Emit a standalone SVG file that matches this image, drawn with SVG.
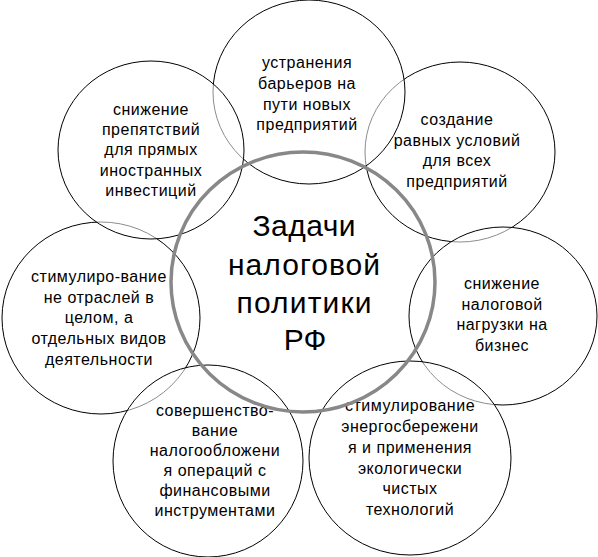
<svg xmlns="http://www.w3.org/2000/svg" width="598" height="557" viewBox="0 0 598 557">
<style>
.c{fill:#fff;fill-opacity:0.55;stroke:#000;stroke-width:1}
.t{font-family:"Liberation Sans",Arial,sans-serif;font-size:16px;letter-spacing:0.5px;text-anchor:middle;fill:#000}
.ct{font-family:"Liberation Sans",Arial,sans-serif;font-size:30px;text-anchor:middle;fill:#000}
.ring{fill:none;stroke:#888;stroke-width:3.5}
.ringb{fill:none;stroke:#000;stroke-width:3.5}
</style>
<defs>
<ellipse id="eT" cx="309" cy="92" rx="96" ry="92"/>
<ellipse id="eTL" cx="151" cy="150" rx="93" ry="89"/>
<ellipse id="eTR" cx="460" cy="152" rx="95" ry="90"/>
<ellipse id="eR" cx="503" cy="316" rx="94" ry="89"/>
<ellipse id="eBR" cx="410" cy="458" rx="101" ry="97"/>
<ellipse id="eBL" cx="208" cy="461" rx="95" ry="96"/>
<ellipse id="eL" cx="101" cy="318" rx="99" ry="96"/>
<clipPath id="kT"><use href="#eT"/></clipPath>
<clipPath id="kTL"><use href="#eTL"/></clipPath>
<clipPath id="kTR"><use href="#eTR"/></clipPath>
<clipPath id="kR"><use href="#eR"/></clipPath>
<clipPath id="kBR"><use href="#eBR"/></clipPath>
<clipPath id="kBL"><use href="#eBL"/></clipPath>
<clipPath id="kL"><use href="#eL"/></clipPath>
<ellipse id="ringShape" cx="303" cy="282" rx="132" ry="130"/>
</defs>
<rect width="598" height="557" fill="#fff"/>

<g id="connectors"/>

<g id="node-tr">
<use href="#eTR" class="c"/>
<text class="t" x="457" y="125">создание</text>
<text class="t" x="457" y="146">равных условий</text>
<text class="t" x="457" y="166">для всех</text>
<text class="t" x="457" y="187">предприятий</text>
</g>
<g id="node-t">
<use href="#eT" class="c"/>
<text class="t" x="307" y="68">устранения</text>
<text class="t" x="307" y="89">барьеров на</text>
<text class="t" x="307" y="110">пути новых</text>
<text class="t" x="307" y="130">предприятий</text>
</g>
<g id="node-l">
<use href="#eL" class="c"/>
<text class="t" x="99" y="282">стимулиро-вание</text>
<text class="t" x="99" y="303">не отраслей в</text>
<text class="t" x="99" y="323">целом, а</text>
<text class="t" x="99" y="344">отдельных видов</text>
<text class="t" x="99" y="365">деятельности</text>
</g>
<g id="node-tl">
<use href="#eTL" class="c"/>
<text class="t" x="151" y="115">снижение</text>
<text class="t" x="151" y="135">препятствий</text>
<text class="t" x="151" y="155">для прямых</text>
<text class="t" x="151" y="176">иностранных</text>
<text class="t" x="151" y="196">инвестиций</text>
</g>
<g id="node-r">
<use href="#eR" class="c"/>
<text class="t" x="502" y="289">снижение</text>
<text class="t" x="502" y="310">налоговой</text>
<text class="t" x="502" y="330">нагрузки на</text>
<text class="t" x="502" y="351">бизнес</text>
</g>
<g id="node-br">
<use href="#eBR" class="c"/>
<text class="t" x="410" y="411">стимулирование</text>
<text class="t" x="410" y="432">энергосбережени</text>
<text class="t" x="410" y="453">я и применения</text>
<text class="t" x="410" y="474">экологически</text>
<text class="t" x="410" y="494">чистых</text>
<text class="t" x="410" y="515">технологий</text>
</g>
<g id="node-bl">
<use href="#eBL" class="c"/>
<text class="t" x="215" y="416">совершенство-</text>
<text class="t" x="215" y="436">вание</text>
<text class="t" x="215" y="456">налогообложени</text>
<text class="t" x="215" y="476">я операций с</text>
<text class="t" x="215" y="496">финансовыми</text>
<text class="t" x="215" y="516">инструментами</text>
</g>

<g id="node-center">
<use href="#ringShape" class="ring"/>
<g clip-path="url(#kT)"><g clip-path="url(#kTL)"><use href="#ringShape" class="ringb"/></g></g>
<g clip-path="url(#kT)"><g clip-path="url(#kTR)"><use href="#ringShape" class="ringb"/></g></g>
<g clip-path="url(#kTR)"><g clip-path="url(#kR)"><use href="#ringShape" class="ringb"/></g></g>
<g clip-path="url(#kR)"><g clip-path="url(#kBR)"><use href="#ringShape" class="ringb"/></g></g>
<g clip-path="url(#kBR)"><g clip-path="url(#kBL)"><use href="#ringShape" class="ringb"/></g></g>
<g clip-path="url(#kBL)"><g clip-path="url(#kL)"><use href="#ringShape" class="ringb"/></g></g>
<g clip-path="url(#kL)"><g clip-path="url(#kTL)"><use href="#ringShape" class="ringb"/></g></g>
<text class="ct" x="304" y="236" textLength="103" lengthAdjust="spacing">Задачи</text>
<text class="ct" x="304" y="275" textLength="152" lengthAdjust="spacing">налоговой</text>
<text class="ct" x="304" y="313" textLength="135" lengthAdjust="spacing">политики</text>
<text class="ct" x="305" y="350">РФ</text>
</g>
</svg>
